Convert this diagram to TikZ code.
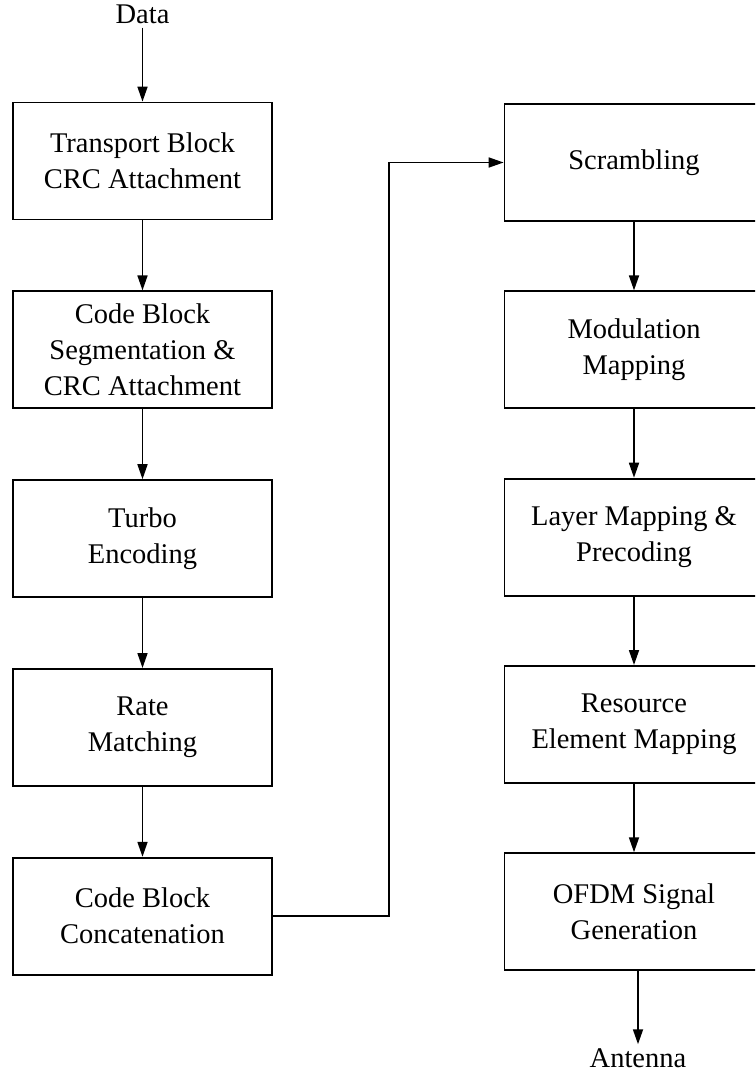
\documentclass[tikz,border=0pt]{standalone}
\usepackage{fontspec}
\setmainfont{Liberation Serif}
\usetikzlibrary{arrows.meta, positioning}
\tikzset{
  block/.style={rectangle, draw=black, fill=white,
    minimum width=259pt, minimum height=117pt, align=center,
    font=\fontsize{28.5}{36}\selectfont, inner sep=0pt, line width=1.8pt},
  arrow/.style={-{Triangle[length=15pt, width=10pt]}, line width=1.7pt},
  endtext/.style={font=\fontsize{28.5}{34}\selectfont, inner sep=4pt}
}
\begin{document}
\begin{tikzpicture}[x=1pt, y=1pt, node distance=70pt]
    \clip (0,0) rectangle (755,-1073);
    \useasboundingbox (0,0) rectangle (755,-1073);
    % left column
    \node[block] (tbcrc) at (142.5,-161) {Transport Block\\CRC Attachment};
    \node[block, below=of tbcrc] (cbseg) {Code Block\\Segmentation \&\\CRC Attachment};
    \node[block, below=of cbseg] (turbo) {Turbo\\Encoding};
    \node[block, below=of turbo] (rate) {Rate\\Matching};
    \node[block, below=of rate] (conc) {Code Block\\Concatenation};
    % right column
    \node[block] (scr) at (634,-162.5) {Scrambling};
    \node[block, below=68.5pt of scr] (mod) {Modulation\\Mapping};
    \node[block, below=68.5pt of mod] (layer) {Layer Mapping \&\\Precoding};
    \node[block, below=68.5pt of layer] (remap) {Resource\\Element Mapping};
    \node[block, below=68.5pt of remap] (ofdm) {OFDM Signal\\Generation};
    % input and output
    \node[endtext] (data) at (142.5,-14) {Data};
    \node[endtext] (ant) at (638,-1058) {Antenna};
    \draw[arrow] (data) -- (tbcrc);
    \draw[arrow] (tbcrc) -- (cbseg);
    \draw[arrow] (cbseg) -- (turbo);
    \draw[arrow] (turbo) -- (rate);
    \draw[arrow] (rate) -- (conc);
    \draw[arrow] (conc.east) -- ++(116pt,0) |- (scr.west);
    \draw[arrow] (scr) -- (mod);
    \draw[arrow] (mod) -- (layer);
    \draw[arrow] (layer) -- (remap);
    \draw[arrow] (remap) -- (ofdm);
    \draw[arrow] (ofdm.south -| ant) -- (ant);
\end{tikzpicture}
\end{document}
